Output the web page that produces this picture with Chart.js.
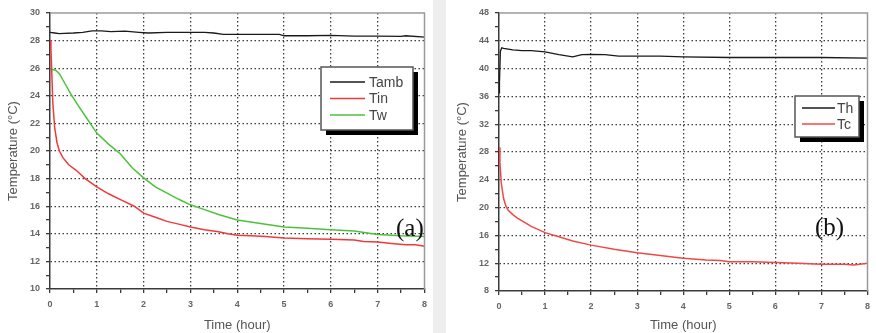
<!DOCTYPE html>
<html>
<head>
<meta charset="utf-8">
<script src="https://cdn.jsdelivr.net/npm/chart.js@4"></script>
<style>
  html, body { margin: 0; padding: 0; background: #fff; }
  body { width: 876px; height: 333px; position: relative; overflow: hidden; }
  #gap { position: absolute; left: 433px; top: 0; width: 13px; height: 333px; background: #eeeeee; }
  #wrapA { position: absolute; left: 0; top: 0; width: 433px; height: 333px; }
  #wrapB { position: absolute; left: 445px; top: 0; width: 431px; height: 333px; }
</style>
</head>
<body>
<div id="gap"></div>
<div id="wrapA"><canvas id="chartA" width="433" height="333"></canvas></div>
<div id="wrapB"><canvas id="chartB" width="431" height="333"></canvas></div>
<script>
// ---- data (a) ----
const xTicks = [0, 1, 2, 3, 4, 5, 6, 7, 8];
const yTicksA = [10, 12, 14, 16, 18, 20, 22, 24, 26, 28, 30];
const yTicksB = [8, 12, 16, 20, 24, 28, 32, 36, 40, 44, 48];

const timeTamb = [0, 0.1, 0.2, 0.3, 0.5, 0.7, 0.9, 1.1, 1.3, 1.6, 1.9, 2.1, 2.5, 3, 3.3, 3.5, 3.7, 4, 4.5, 4.9, 5.0, 5.5, 6, 6.5, 7, 7.5, 7.6, 8];
const tamb = [28.6, 28.55, 28.5, 28.52, 28.55, 28.6, 28.7, 28.7, 28.65, 28.68, 28.6, 28.55, 28.6, 28.6, 28.6, 28.55, 28.45, 28.45, 28.45, 28.45, 28.35, 28.35, 28.38, 28.32, 28.33, 28.3, 28.35, 28.25];

const timeTin = [0, 0.02, 0.04, 0.06, 0.1, 0.15, 0.2, 0.28, 0.4, 0.56, 0.75, 1, 1.25, 1.55, 1.8, 2, 2.25, 2.5, 2.75, 3, 3.3, 3.6, 3.8, 4, 4.3, 4.6, 5, 5.5, 6, 6.5, 6.7, 7, 7.3, 7.6, 7.8, 8];
const tin = [28, 27.4, 25.5, 23.5, 21.7, 20.6, 20.0, 19.5, 19.0, 18.6, 18.0, 17.4, 16.9, 16.4, 16.0, 15.5, 15.2, 14.9, 14.7, 14.5, 14.3, 14.15, 14.0, 13.9, 13.85, 13.8, 13.7, 13.65, 13.6, 13.55, 13.45, 13.4, 13.3, 13.2, 13.2, 13.1];

const timeTw = [0, 0.05, 0.12, 0.2, 0.3, 0.45, 0.6, 0.8, 1, 1.25, 1.5, 1.75, 2, 2.25, 2.5, 2.75, 3, 3.3, 3.6, 4, 4.5, 5, 5.5, 6, 6.5, 7, 7.5, 8];
const tw = [25.9, 25.9, 25.85, 25.6, 25.0, 24.1, 23.3, 22.3, 21.3, 20.5, 19.8, 18.8, 18.05, 17.4, 16.95, 16.5, 16.1, 15.75, 15.4, 15.0, 14.75, 14.5, 14.4, 14.3, 14.2, 13.95, 13.85, 13.8];

// ---- data (b) ----
const timeTh = [0, 0.01, 0.03, 0.06, 0.1, 0.3, 0.5, 0.7, 1, 1.3, 1.6, 1.8, 2, 2.3, 2.6, 3, 3.5, 4, 5, 6, 7, 8];
const th = [36.5, 38, 42.5, 43.0, 42.9, 42.7, 42.6, 42.6, 42.4, 42.0, 41.7, 42.0, 42.05, 42.0, 41.8, 41.8, 41.8, 41.7, 41.6, 41.6, 41.6, 41.5];

const timeTc = [0, 0.02, 0.05, 0.1, 0.15, 0.2, 0.3, 0.4, 0.5, 0.7, 1, 1.3, 1.6, 2, 2.5, 3, 3.5, 4, 4.5, 4.8, 5, 5.5, 6, 6.5, 7, 7.5, 7.7, 8];
const tc = [28.7, 26.5, 23.5, 21.3, 20.2, 19.6, 19.0, 18.5, 18.1, 17.3, 16.4, 15.8, 15.2, 14.6, 14.0, 13.5, 13.1, 12.7, 12.45, 12.4, 12.2, 12.2, 12.1, 12.0, 11.85, 11.85, 11.75, 12.0];

function toPoints(xs, ys) {
  return xs.map((x, i) => ({ x: x, y: ys[i] }));
}

// frame on top/right, legend box with shadow and the panel tag
const decorPlugin = {
  id: 'decor',
  afterDraw(chart, args, opts) {
    const ctx = chart.ctx;
    const a = chart.chartArea;
    ctx.save();
    ctx.strokeStyle = '#9a9a9a';
    ctx.lineWidth = 1.5;
    ctx.beginPath();
    ctx.moveTo(a.left, a.top);
    ctx.lineTo(a.right, a.top);
    ctx.lineTo(a.right, a.bottom);
    ctx.stroke();

    const b = opts.box;
    ctx.fillStyle = '#000';
    ctx.fillRect(b.x + 5, b.y + 5, b.w, b.h);
    ctx.fillStyle = '#fff';
    ctx.fillRect(b.x, b.y, b.w, b.h);
    ctx.strokeStyle = '#555';
    ctx.lineWidth = 1.5;
    ctx.strokeRect(b.x, b.y, b.w, b.h);
    ctx.font = '14px "Liberation Sans", Arial, sans-serif';
    ctx.textBaseline = 'middle';
    chart.data.datasets.forEach((ds, i) => {
      const y = b.y + b.rowTop + i * b.rowGap;
      ctx.strokeStyle = ds.borderColor;
      ctx.lineWidth = 1.5;
      ctx.beginPath();
      ctx.moveTo(b.x + b.lineX0, y);
      ctx.lineTo(b.x + b.lineX1, y);
      ctx.stroke();
      ctx.fillStyle = '#444';
      ctx.fillText(ds.label, b.x + b.textX, y + 1);
    });

    ctx.font = '25px "Liberation Serif", "Times New Roman", serif';
    ctx.fillStyle = '#111';
    ctx.textBaseline = 'alphabetic';
    ctx.fillText(opts.tag.text, opts.tag.x, opts.tag.y);
    ctx.restore();
  }
};

function makeScales(yMin, yMax, yStep, yMajors, yWidth, xHeight, yTitlePad) {
  const gridColor = (majors, lo, hi) => (c) => {
    const v = c.tick ? c.tick.value : null;
    if (v === null || v === lo || v === hi) return 'rgba(0,0,0,0)';
    return majors.includes(v) ? '#3c3c3c' : 'rgba(0,0,0,0)';
  };
  return {
    x: {
      type: 'linear',
      min: 0, max: 8,
      afterFit: (s) => { s.height = xHeight; },
      // in v4 border.dash is what dashes the grid lines
      border: { display: true, color: '#3a3a3a', width: 1.5, dash: [1.5, 2.5] },
      grid: {
        color: gridColor(xTicks, 0, 8),
        tickBorderDash: [],
        tickColor: '#3a3a3a',
        tickLength: 4,
        lineWidth: 1.3
      },
      ticks: {
        stepSize: 0.5,
        autoSkip: false,
        maxRotation: 0,
        padding: 6,
        color: '#666',
        font: { family: '"Liberation Sans", Arial, sans-serif', size: 9, weight: 'bold' },
        callback: (v) => xTicks.includes(v) ? String(v) : ''
      },
      title: {
        display: true,
        text: 'Time (hour)',
        color: '#555',
        padding: { top: 1, bottom: 0 },
        font: { family: '"Liberation Sans", Arial, sans-serif', size: 13 }
      }
    },
    y: {
      min: yMin, max: yMax,
      afterFit: (s) => { s.width = yWidth; },
      border: { display: true, color: '#3a3a3a', width: 1.5, dash: [1.5, 2.5] },
      grid: {
        color: gridColor(yMajors, yMin, yMax),
        tickBorderDash: [],
        tickColor: '#3a3a3a',
        tickLength: 4,
        lineWidth: 1.3
      },
      ticks: {
        stepSize: yStep,
        autoSkip: false,
        padding: 6,
        color: '#666',
        font: { family: '"Liberation Sans", Arial, sans-serif', size: 9, weight: 'bold' },
        callback: (v) => yMajors.includes(v) ? String(v) : ''
      },
      title: {
        display: true,
        text: 'Temperature (°C)',
        color: '#555',
        padding: { top: yTitlePad, bottom: 0 },
        font: { family: '"Liberation Sans", Arial, sans-serif', size: 13 }
      }
    }
  };
}

function lineSet(label, color, pts, width) {
  return {
    label: label,
    data: pts,
    borderColor: color,
    borderWidth: width,
    pointRadius: 0,
    tension: 0,
    fill: false
  };
}

const chartA = new Chart(document.getElementById('chartA').getContext('2d'), {
  type: 'line',
  plugins: [decorPlugin],
  data: {
    datasets: [
      lineSet('Tamb', '#1a1a1a', toPoints(timeTamb, tamb), 1.3),
      lineSet('Tin', '#f03a3a', toPoints(timeTin, tin), 1.5),
      lineSet('Tw', '#4cc23c', toPoints(timeTw, tw), 1.5)
    ]
  },
  options: {
    responsive: false,
    animation: false,
    layout: { padding: { top: 13, right: 5, left: 0, bottom: 0 } },
    scales: makeScales(10, 30, 1, yTicksA, 50, 44, 6),
    plugins: {
      legend: { display: false },
      tooltip: { enabled: false },
      decor: {
        box: { x: 321, y: 67, w: 92, h: 63, lineX0: 9, lineX1: 44, textX: 48, rowTop: 15, rowGap: 16.5 },
        tag: { text: '(a)', x: 396, y: 236 }
      }
    }
  }
});

const chartB = new Chart(document.getElementById('chartB').getContext('2d'), {
  type: 'line',
  plugins: [decorPlugin],
  data: {
    datasets: [
      lineSet('Th', '#1a1a1a', toPoints(timeTh, th), 1.3),
      lineSet('Tc', '#f04848', toPoints(timeTc, tc), 1.5)
    ]
  },
  options: {
    responsive: false,
    animation: false,
    layout: { padding: { top: 13, right: 3, left: 0, bottom: 0 } },
    scales: makeScales(8, 48, 2, yTicksB, 54, 42, 10),
    plugins: {
      legend: { display: false },
      tooltip: { enabled: false },
      decor: {
        box: { x: 350, y: 96, w: 64, h: 41, lineX0: 7, lineX1: 40, textX: 42, rowTop: 12, rowGap: 16 },
        tag: { text: '(b)', x: 370, y: 235 }
      }
    }
  }
});
</script>
</body>
</html>
